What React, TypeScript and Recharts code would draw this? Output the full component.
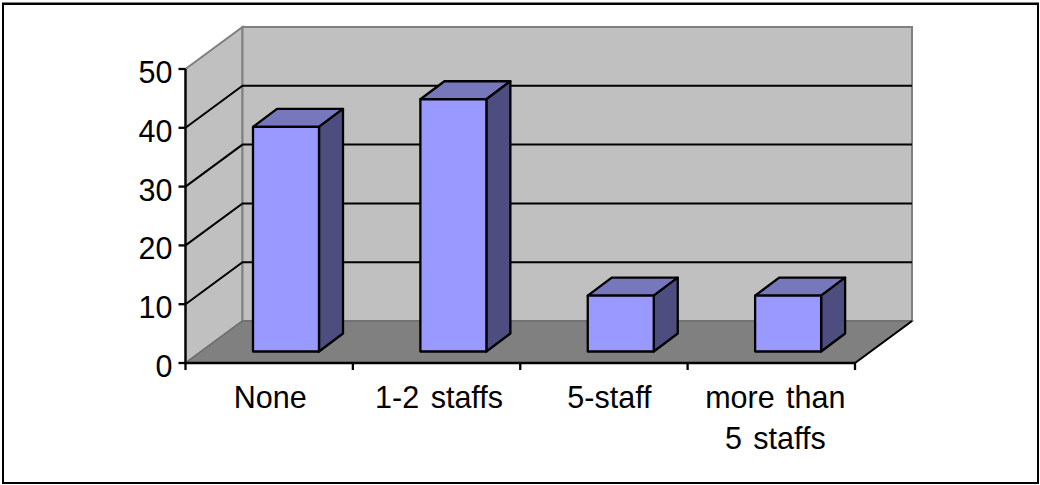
import { BarChart, Bar, XAxis, YAxis, usePlotArea } from "recharts";

const categories = ["None", "1-2 staffs", "5-staff", "more than\n5 staffs"];
const staffValues = [38.2, 42.9, 9.5, 9.5];
const yTicks = [0, 10, 20, 30, 40, 50];
const gridValues = [10, 20, 30, 40];

const chartData = categories.map((name, i) => ({ name, value: staffValues[i] }));

const FONT = "'Liberation Sans', Arial, sans-serif";
const FONT_SIZE = 30.5;
const Y_MAX = 50;

// how far the back wall sits behind the front plane
const WALL_DX = 57;
const WALL_DY = -42;
// bars stand partway into the floor and are this deep
const BAR_SHIFT_X = 16.5;
const BAR_SHIFT_Y = -11.5;
const BAR_DX = 24;
const BAR_DY = -18;
// the original labels drift right of the band centre a little
const LABEL_NUDGE = [1, 2.5, 5.5, 4];

function Walls() {
  const plot = usePlotArea();
  if (!plot) return null;
  const { x, y, width, height } = plot;
  const right = x + width;
  const bottom = y + height;
  const valueY = (v: number) => bottom - (v / Y_MAX) * height;
  const pts = (list: number[][]) => list.map((p) => p.join(",")).join(" ");

  return (
    <g>
      <polygon
        points={pts([[x, bottom], [x, y], [x + WALL_DX, y + WALL_DY], [x + WALL_DX, bottom + WALL_DY]])}
        fill="#c0c0c0"
        stroke="#808080"
        strokeWidth={2}
      />
      <polygon
        points={pts([[x + WALL_DX, y + WALL_DY], [right + WALL_DX, y + WALL_DY], [right + WALL_DX, bottom + WALL_DY], [x + WALL_DX, bottom + WALL_DY]])}
        fill="#c0c0c0"
        stroke="#808080"
        strokeWidth={2}
      />
      <polygon
        points={pts([[x, bottom], [right, bottom], [right + WALL_DX, bottom + WALL_DY], [x + WALL_DX, bottom + WALL_DY]])}
        fill="#808080"
        stroke="#6e6e6e"
        strokeWidth={1.5}
      />
      <line x1={right} y1={bottom} x2={right + WALL_DX} y2={bottom + WALL_DY} stroke="#000" strokeWidth={2} />
      {gridValues.map((v) => (
        <polyline
          key={v}
          points={pts([[x, valueY(v)], [x + WALL_DX, valueY(v) + WALL_DY], [right + WALL_DX, valueY(v) + WALL_DY]])}
          fill="none"
          stroke="#000"
          strokeWidth={2}
        />
      ))}
      {/* category ticks sit on the band edges, not the centres */}
      {[0, 1, 2, 3, 4].map((i) => {
        const tx = x + (width / categories.length) * i;
        return <line key={i} x1={tx} y1={bottom} x2={tx} y2={bottom + 7} stroke="#000" strokeWidth={2.3} />;
      })}
    </g>
  );
}

function Bar3D(props: any) {
  const { x, y, width, height } = props;
  const left = x + BAR_SHIFT_X;
  const top = y + BAR_SHIFT_Y;
  const right = left + width;
  const bottom = top + height;
  const pts = (list: number[][]) => list.map((p) => p.join(",")).join(" ");
  const edge = { stroke: "#000", strokeWidth: 2.3, strokeLinejoin: "round" as const };
  return (
    <g>
      <polygon
        points={pts([[left, top], [left + BAR_DX, top + BAR_DY], [right + BAR_DX, top + BAR_DY], [right, top]])}
        fill="#7777bb"
        {...edge}
      />
      <polygon
        points={pts([[right, top], [right + BAR_DX, top + BAR_DY], [right + BAR_DX, bottom + BAR_DY], [right, bottom]])}
        fill="#4d4d80"
        {...edge}
      />
      <rect x={left} y={top} width={width} height={height} fill="#9999ff" {...edge} />
    </g>
  );
}

function CategoryTick(props: any) {
  const { x, y, payload, index } = props;
  const lines = String(payload.value).split("\n");
  const cx = x + LABEL_NUDGE[index];
  return (
    <text x={cx} y={y} textAnchor="middle" fontFamily={FONT} fontSize={FONT_SIZE} fill="#000" wordSpacing={3}>
      {lines.map((line, i) => (
        <tspan key={i} x={cx} dy={i === 0 ? 37 : 41}>
          {line}
        </tspan>
      ))}
    </text>
  );
}

function ValueTick(props: any) {
  const { x, y, payload } = props;
  return (
    <text x={x} y={y} dy={14} textAnchor="end" fontFamily={FONT} fontSize={FONT_SIZE} fill="#000">
      {payload.value}
    </text>
  );
}

export default function App() {
  return (
    <div style={{ position: "absolute", left: 0, top: 0, width: 1040, height: 485, background: "#fff" }}>
      <div
        style={{
          position: "absolute",
          left: 2,
          top: 3,
          width: 1033,
          height: 477,
          border: "2px solid #000",
          boxShadow: "0 -1px 0 #808080",
        }}
      />
      <BarChart
        width={1040}
        height={485}
        data={chartData}
        margin={{ top: 69, right: 185, bottom: 62, left: 125.5 }}
        barCategoryGap={0}
        style={{ position: "absolute", left: 0, top: 0 }}
      >
        <Walls />
        <XAxis
          dataKey="name"
          height={60}
          interval={0}
          tick={CategoryTick}
          tickLine={false}
          axisLine={{ stroke: "#000", strokeWidth: 2.3 }}
        />
        <YAxis
          width={60}
          domain={[0, Y_MAX]}
          ticks={yTicks}
          tick={ValueTick}
          tickSize={7}
          tickMargin={6}
          tickLine={{ stroke: "#000", strokeWidth: 2.3 }}
          axisLine={{ stroke: "#000", strokeWidth: 2.3 }}
        />
        <Bar dataKey="value" barSize={66} shape={Bar3D} isAnimationActive={false} />
      </BarChart>
    </div>
  );
}
